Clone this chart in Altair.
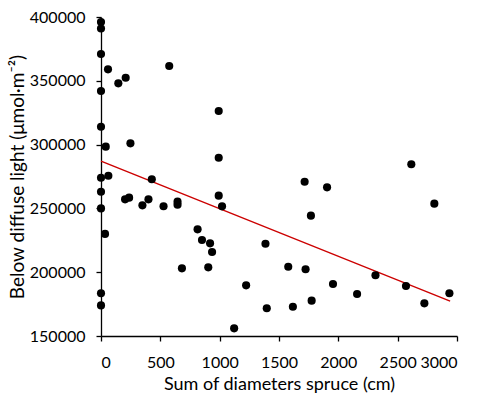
import altair as alt
import pandas as pd

# Scatter data
sum_diam = [0, 0, 0, 0, 0, 0, 0, 0, 0, 0,
            40, 34, 59, 62, 146, 208, 203, 237, 248, 349,
            400, 428, 527, 575, 645, 645, 682, 814, 851, 904,
            919, 936, 992, 992, 992, 1020, 1122, 1223, 1386, 1397,
            1578, 1617, 1716, 1724, 1769, 1775, 1905, 1955, 2158, 2313,
            2570, 2615, 2725, 2809, 2936]
below_light = [396000, 391000, 371000, 342000, 314000, 274000, 263000, 250000, 183500, 174000,
               298400, 230000, 359000, 275600, 348000, 352400, 257100, 258400, 301000, 252400,
               257100, 272800, 251700, 361600, 255300, 252900, 203000, 233600, 225200, 203800,
               222600, 215800, 326300, 289700, 260000, 251600, 156000, 189700, 222300, 171700,
               204300, 172900, 270900, 202300, 244300, 177700, 266500, 190800, 182900, 197600,
               189200, 284600, 175600, 253700, 183500]

# Trend line end points
trend_x = [0, 2942]
trend_y = [287100, 177400]

x_ticks = [0, 500, 1000, 1500, 2000, 2500, 3000]
y_ticks = [150000, 200000, 250000, 300000, 350000, 400000]

pts = pd.DataFrame({"x": sum_diam, "y": below_light})
trend = pd.DataFrame({"x": trend_x, "y": trend_y})

FONT = "Lato"

xscale = alt.Scale(domain=[0, 3000], nice=False, zero=False)
yscale = alt.Scale(domain=[150000, 400000], nice=False, zero=False)

xaxis = alt.Axis(values=x_ticks, title="Sum of diameters spruce (cm)", grid=False,
                 domainColor="black", tickColor="black", tickSize=5,
                 labelPadding=13, labelFontSize=16, labelFont=FONT, labelColor="black",
                 titleFont=FONT, titleFontSize=18, titleFontWeight="normal",
                 titleColor="black", titlePadding=5, format="d")
yaxis = alt.Axis(values=y_ticks, title="Below diffuse light (μmol·m⁻²)", grid=False,
                 domainColor="black", tickColor="black", tickSize=5,
                 labelPadding=11, labelFontSize=16, labelFont=FONT, labelColor="black",
                 titleFont=FONT, titleFontSize=19, titleFontWeight="normal",
                 titleColor="black", titlePadding=2, format="d")

points = alt.Chart(pts).mark_circle(size=66, color="black", opacity=1).encode(
    x=alt.X("x:Q", scale=xscale, axis=xaxis),
    y=alt.Y("y:Q", scale=yscale, axis=yaxis),
)

line = alt.Chart(trend).mark_line(color="#CC0000", strokeWidth=1.4).encode(
    x=alt.X("x:Q", scale=xscale),
    y=alt.Y("y:Q", scale=yscale),
)

chart = alt.layer(line, points).properties(
    width=356, height=319,
    padding={"left": 101, "top": 17, "right": 23, "bottom": 67},
    autosize=alt.AutoSizeParams(type="none"),
).configure_view(stroke=None).configure_axis(domainWidth=1.3, tickWidth=1.3)

chart.save("out.html", embed_options={"renderer": "svg", "actions": False})
